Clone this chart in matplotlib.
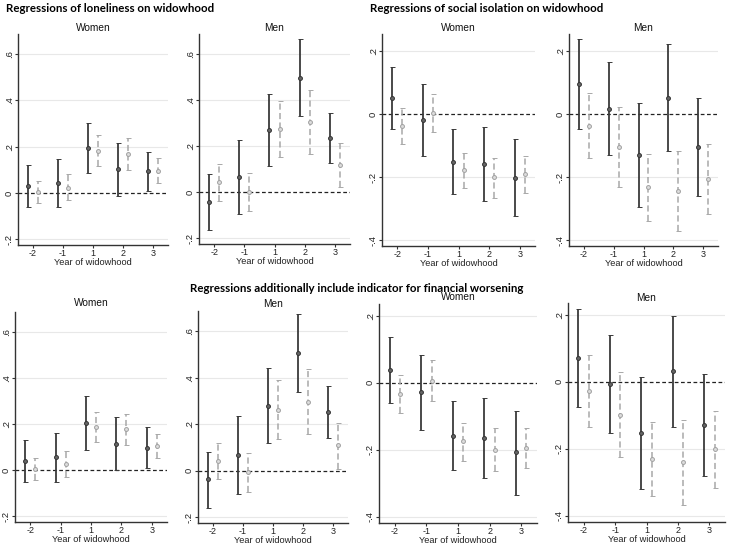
import matplotlib
matplotlib.use("Agg")
import matplotlib.pyplot as plt
import numpy as np

# ---------------- data ----------------
years = ["-2", "-1", "1", "2", "3"]

# Loneliness, women (top row)
lw_b = [0.029, 0.043, 0.194, 0.102, 0.094]
lw_b_lo = [-0.062, -0.062, 0.085, -0.012, 0.007]
lw_b_hi = [0.119, 0.145, 0.304, 0.214, 0.178]
lw_g = [0.004, 0.023, 0.183, 0.170, 0.094]
lw_g_lo = [-0.043, -0.032, 0.115, 0.101, 0.043]
lw_g_hi = [0.052, 0.081, 0.249, 0.237, 0.150]

# Loneliness, men (top row)
lm_b = [-0.042, 0.065, 0.272, 0.496, 0.236]
lm_b_lo = [-0.163, -0.096, 0.115, 0.329, 0.128]
lm_b_hi = [0.079, 0.226, 0.426, 0.663, 0.342]
lm_g = [0.043, 0.000, 0.275, 0.305, 0.118]
lm_g_lo = [-0.036, -0.083, 0.154, 0.168, 0.022]
lm_g_hi = [0.121, 0.085, 0.396, 0.442, 0.213]

# Social isolation, women (top row)
sw_b = [0.050, -0.018, -0.151, -0.160, -0.202]
sw_b_lo = [-0.049, -0.132, -0.252, -0.277, -0.324]
sw_b_hi = [0.150, 0.096, -0.047, -0.041, -0.080]
sw_g = [-0.037, 0.003, -0.178, -0.201, -0.191]
sw_g_lo = [-0.094, -0.058, -0.236, -0.265, -0.251]
sw_g_hi = [0.019, 0.064, -0.123, -0.139, -0.134]

# Social isolation, men (top row)
sm_b = [0.096, 0.017, -0.129, 0.051, -0.105]
sm_b_lo = [-0.047, -0.131, -0.294, -0.117, -0.259]
sm_b_hi = [0.236, 0.163, 0.035, 0.220, 0.050]
sm_g = [-0.037, -0.105, -0.232, -0.244, -0.205]
sm_g_lo = [-0.140, -0.231, -0.339, -0.372, -0.317]
sm_g_hi = [0.065, 0.021, -0.126, -0.118, -0.094]

# Loneliness, women (with financial worsening)
flw_b = [0.040, 0.056, 0.205, 0.116, 0.098]
flw_b_lo = [-0.052, -0.052, 0.090, 0.000, 0.009]
flw_b_hi = [0.132, 0.162, 0.322, 0.233, 0.188]
flw_g = [0.007, 0.029, 0.187, 0.177, 0.105]
flw_g_lo = [-0.042, -0.027, 0.121, 0.109, 0.052]
flw_g_hi = [0.055, 0.085, 0.254, 0.244, 0.159]

# Loneliness, men (with financial worsening)
flm_b = [-0.037, 0.069, 0.280, 0.504, 0.254]
flm_b_lo = [-0.158, -0.099, 0.118, 0.337, 0.142]
flm_b_hi = [0.082, 0.237, 0.442, 0.673, 0.365]
flm_g = [0.044, -0.004, 0.261, 0.297, 0.109]
flm_g_lo = [-0.037, -0.093, 0.136, 0.159, 0.009]
flm_g_hi = [0.121, 0.078, 0.388, 0.435, 0.207]

# Social isolation, women (with financial worsening)
fsw_b = [0.039, -0.028, -0.158, -0.165, -0.208]
fsw_b_lo = [-0.060, -0.140, -0.260, -0.285, -0.334]
fsw_b_hi = [0.136, 0.082, -0.056, -0.047, -0.084]
fsw_g = [-0.034, 0.005, -0.175, -0.200, -0.194]
fsw_g_lo = [-0.090, -0.054, -0.233, -0.264, -0.254]
fsw_g_hi = [0.023, 0.067, -0.120, -0.136, -0.136]

# Social isolation, men (with financial worsening)
fsm_b = [0.070, -0.007, -0.153, 0.031, -0.129]
fsm_b_lo = [-0.076, -0.152, -0.321, -0.134, -0.282]
fsm_b_hi = [0.218, 0.139, 0.014, 0.195, 0.024]
fsm_g = [-0.028, -0.098, -0.230, -0.241, -0.202]
fsm_g_lo = [-0.135, -0.225, -0.342, -0.369, -0.316]
fsm_g_hi = [0.081, 0.029, -0.120, -0.115, -0.088]

lon_ticks = [-0.2, 0, 0.2, 0.4, 0.6]
lon_labels = ["-.2", "0", ".2", ".4", ".6"]
iso_ticks = [-0.4, -0.2, 0, 0.2]
iso_labels = ["-.4", "-.2", "0", ".2"]

W, H = 730, 546
fig = plt.figure(figsize=(W / 100, H / 100), dpi=100)
fig.patch.set_facecolor("white")

TICKFONT = ["Liberation Sans", "DejaVu Sans"]
TITLEFONT = ["Lato", "DejaVu Sans"]

def panel(px_left, px_top, px_right, px_bottom, ylim, ticks, labels, title,
          title_y, b, blo, bhi, g, glo, ghi):
    ax = fig.add_axes([px_left / W, 1 - px_bottom / H,
                       (px_right - px_left) / W, (px_bottom - px_top) / H])
    x = np.arange(1, len(years) + 1)
    off = 1 / 6
    for t in ticks:
        if t != 0:
            ax.axhline(t, color="#e8e8e8", lw=0.8, zorder=0)
    ax.axhline(0, color="#222222", lw=0.9, ls=(0, (3, 2)), zorder=1)
    b = np.array(b); g = np.array(g)
    ax.errorbar(x - off, b, yerr=[b - np.array(blo), np.array(bhi) - b],
                fmt="o", color="#3a3a3a", ms=2.8, mfc="#666666", mec="#333333",
                mew=0.7, elinewidth=1.3, capsize=1.8, capthick=1.0, zorder=3)
    eg = ax.errorbar(x + off, g, yerr=[g - np.array(glo), np.array(ghi) - g],
                     fmt="o", color="#a8a8a8", ms=2.8, mfc="#dddddd", mec="#a0a0a0",
                     mew=0.7, elinewidth=1.1, capsize=1.8, capthick=0.9, zorder=3)
    eg[2][0].set_linestyle((0, (4, 2.2)))
    ax.set_xlim(0.5, 5.5)
    ax.set_ylim(*ylim)
    ax.set_xticks(x)
    ax.set_xticklabels(years, family=TICKFONT, fontsize=6.5)
    ax.set_yticks(ticks)
    ax.set_yticklabels(labels, family=TICKFONT, fontsize=6.8, rotation=90, va="center")
    for s in ["top", "right"]:
        ax.spines[s].set_visible(False)
    for s in ["left", "bottom"]:
        ax.spines[s].set_color("#333333")
        ax.spines[s].set_linewidth(1.0)
    ax.tick_params(axis="both", length=2.0, width=0.8, color="#333333", pad=1.0,
                   labelcolor="#222222")
    cx = (px_left + px_right) / 2 / W
    fig.text(cx, 1 - (px_bottom + 17.5) / H, "Year of widowhood",
             family=TICKFONT, fontsize=6.7, color="#222222", ha="center", va="center")
    fig.text(cx, 1 - title_y / H, title,
             family=TICKFONT, fontsize=7.3, color="#111111", ha="center", va="center")
    return ax

lon_ylim = (-0.224, 0.686)
iso_ylim_top = (-0.418, 0.253)
iso_ylim_bot = (-0.419, 0.235)

panel(18, 34, 168, 245, lon_ylim, lon_ticks, lon_labels, "Women", 28,
      lw_b, lw_b_lo, lw_b_hi, lw_g, lw_g_lo, lw_g_hi)
panel(199, 34, 350, 244, lon_ylim, lon_ticks, lon_labels, "Men", 28,
      lm_b, lm_b_lo, lm_b_hi, lm_g, lm_g_lo, lm_g_hi)
panel(382, 34, 535, 246, iso_ylim_top, iso_ticks, iso_labels, "Women", 28,
      sw_b, sw_b_lo, sw_b_hi, sw_g, sw_g_lo, sw_g_hi)
panel(569, 34, 718, 246, iso_ylim_top, iso_ticks, iso_labels, "Men", 28,
      sm_b, sm_b_lo, sm_b_hi, sm_g, sm_g_lo, sm_g_hi)

panel(15, 312, 167, 522, lon_ylim, lon_ticks, lon_labels, "Women", 303,
      flw_b, flw_b_lo, flw_b_hi, flw_g, flw_g_lo, flw_g_hi)
panel(198, 311, 348, 523, lon_ylim, lon_ticks, lon_labels, "Men", 304,
      flm_b, flm_b_lo, flm_b_hi, flm_g, flm_g_lo, flm_g_hi)
panel(379, 304, 537, 523, iso_ylim_bot, iso_ticks, iso_labels, "Women", 297,
      fsw_b, fsw_b_lo, fsw_b_hi, fsw_g, fsw_g_lo, fsw_g_hi)
panel(568, 303, 725, 522, iso_ylim_bot, iso_ticks, iso_labels, "Men", 298,
      fsm_b, fsm_b_lo, fsm_b_hi, fsm_g, fsm_g_lo, fsm_g_hi)

fig.text(6 / W, 1 - 9 / H, "Regressions of loneliness on widowhood",
         family=TITLEFONT, fontweight="bold", fontsize=8.3, va="center", ha="left")
fig.text(370 / W, 1 - 9 / H, "Regressions of social isolation on widowhood",
         family=TITLEFONT, fontweight="bold", fontsize=8.3, va="center", ha="left")
fig.text(357 / W, 1 - 288 / H, "Regressions additionally include indicator for financial worsening",
         family=TITLEFONT, fontweight="bold", fontsize=8.3, va="center", ha="center")

fig.savefig("out.png", dpi=100, facecolor="white")
